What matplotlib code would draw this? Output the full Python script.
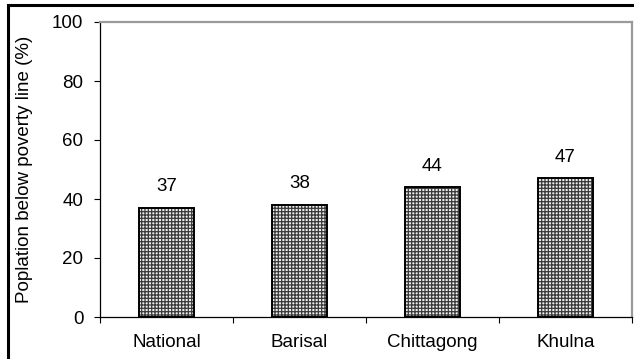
import matplotlib
matplotlib.use("Agg")
import matplotlib.pyplot as plt
from matplotlib.patches import Rectangle

regions = ["National", "Barisal", "Chittagong", "Khulna"]
poverty_pct = [37, 38, 44, 47]
y_ticks = [0, 20, 40, 60, 80, 100]

plt.rcParams["font.family"] = ["Liberation Sans", "DejaVu Sans"]
plt.rcParams["hatch.linewidth"] = 0.9

FS = 13.5

fig = plt.figure(figsize=(6.34, 3.59), dpi=100)
ax = fig.add_axes([100 / 634, 1 - 317 / 359, 532 / 634, 295 / 359])

x = list(range(len(regions)))
bar_w = 0.41
# textured fill, then a solid outline on top
ax.bar(x, poverty_pct, width=bar_w, color="#ececec", edgecolor="#3a3a3a",
       hatch="+++++", linewidth=0, zorder=2)
ax.bar(x, poverty_pct, width=bar_w, fill=False, edgecolor="black",
       linewidth=1.4, zorder=3)

for xi, v in zip(x, poverty_pct):
    ax.annotate(f"{v}", (xi, v), xytext=(0, 9), textcoords="offset points",
                ha="center", va="bottom", fontsize=FS)

ax.set_xlim(-0.5, len(regions) - 0.5)
ax.set_ylim(0, 100)
ax.set_yticks(y_ticks)
ax.set_xticks([i + 0.5 for i in x[:-1]] + [-0.5, len(regions) - 0.5], minor=False)
ax.set_xticklabels([])
ax.set_xticks(x, minor=True)
ax.set_xticklabels(regions, minor=True, fontsize=FS)
ax.tick_params(axis="x", which="minor", length=0, pad=12.5)
ax.tick_params(axis="x", which="major", direction="out", length=4, width=0.8)
ax.tick_params(axis="y", direction="out", length=4, width=0.8, labelsize=FS, pad=8)

ax.set_ylabel("Poplation below poverty line (%)", fontsize=FS, labelpad=14)

for side in ("left", "bottom"):
    ax.spines[side].set_color("black")
    ax.spines[side].set_linewidth(0.9)
for side in ("top", "right"):
    ax.spines[side].set_color("#9a9a9a")
    ax.spines[side].set_linewidth(1.6)

# outer frame of the figure panel
fig.patches.append(Rectangle((8 / 634, -0.1), 1.2, 1 - 5 / 359 + 0.1,
                             transform=fig.transFigure, fill=False,
                             edgecolor="black", linewidth=2.2))

fig.savefig("out.png", dpi=100)
